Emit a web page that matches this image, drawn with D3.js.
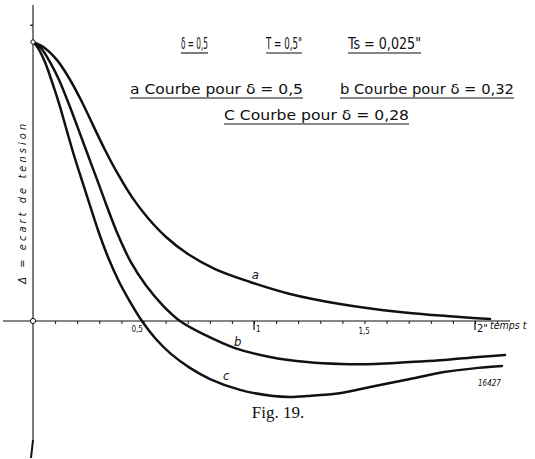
<!DOCTYPE html>
<html><head><meta charset="utf-8">
<script src="https://cdn.jsdelivr.net/npm/d3@7"></script>
<style>
html,body{margin:0;padding:0;background:#fff;}
svg{display:block;}
text{fill:#111;}
</style></head>
<body>
<svg id="chart" width="535" height="459"></svg>
<script>
// ---- data (t in seconds, Δ relative deviation) ----
const tA = [0,0.054,0.109,0.163,0.217,0.271,0.326,0.384,0.448,0.52,0.602,0.701,0.824,0.982,1.163,1.389,1.66,1.932,2.068];
const dA = [1,0.978,0.935,0.871,0.792,0.703,0.613,0.527,0.444,0.369,0.301,0.24,0.186,0.14,0.097,0.061,0.032,0.014,0.007];

const tB = [0,0.036,0.077,0.118,0.16,0.203,0.245,0.287,0.332,0.385,0.443,0.51,0.586,0.665,0.778,0.914,1.072,1.24,1.394,1.548,1.706,1.86,2.014,2.136];
const dB = [1,0.978,0.928,0.864,0.782,0.692,0.602,0.513,0.416,0.308,0.211,0.129,0.057,0,-0.05,-0.097,-0.129,-0.147,-0.154,-0.154,-0.147,-0.14,-0.129,-0.122];

const tC = [0,0.023,0.054,0.086,0.12,0.152,0.185,0.221,0.257,0.297,0.341,0.39,0.44,0.493,0.552,0.624,0.71,0.801,0.937,1.086,1.163,1.24,1.394,1.548,1.706,1.86,2.014,2.122];
const dC = [1,0.978,0.928,0.857,0.774,0.685,0.595,0.505,0.416,0.319,0.226,0.14,0.068,0,-0.061,-0.118,-0.168,-0.208,-0.247,-0.269,-0.272,-0.269,-0.258,-0.233,-0.208,-0.183,-0.168,-0.161];

const seriesNames = ["a","b","c"];
const minorTicks = [0.1,0.2,0.3,0.4,0.5,0.6,0.7,0.8,0.9,1.0,1.1,1.2,1.3,1.4,1.5,1.6,1.7,1.8,1.9,2.0,2.1];
const majorTicks = [1, 2];
const tickLabels = [{v:0.5,t:"0,5"},{v:1,t:"1"},{v:1.5,t:"1,5"},{v:2,t:"2\""}];
const titleLine1 = ["δ = 0,5","T = 0,5\"","Ts = 0,025\""];
const titleLine2 = ["a  Courbe  pour  δ = 0,5","b  Courbe  pour  δ = 0,32"];
const titleLine3 = ["C  Courbe  pour  δ = 0,28"];

// ---- drawing ----
const svg = d3.select("#chart");
const x = d3.scaleLinear().domain([0,2]).range([33,475]);
const y = d3.scaleLinear().domain([0,1]).range([321,42]);

const handFont = "'DejaVu Sans Condensed','DejaVu Sans','Liberation Sans',sans-serif";

// axes
svg.append("line").attr("x1",3).attr("x2",510).attr("y1",y(0)).attr("y2",y(0))
  .attr("stroke","#111").attr("stroke-width",1.1);
svg.append("line").attr("x1",x(0)).attr("x2",x(0)).attr("y1",5).attr("y2",440)
  .attr("stroke","#111").attr("stroke-width",1.1);
svg.append("line").attr("x1",x(0)).attr("x2",x(0)-2).attr("y1",440).attr("y2",458)
  .attr("stroke","#111").attr("stroke-width",2);
svg.append("line").attr("x1",x(0)-3).attr("x2",x(0)).attr("y1",y(1.06)).attr("y2",y(1.06))
  .attr("stroke","#111").attr("stroke-width",1.2);

const xAxis = d3.axisBottom(x).tickValues(minorTicks).tickSize(3).tickFormat("");
const gx = svg.append("g").attr("transform",`translate(0,${y(0)})`).call(xAxis);
gx.select(".domain").remove();
gx.selectAll(".tick line").attr("stroke","#111").attr("stroke-width",1);

const gMaj = svg.append("g");
gMaj.selectAll("line").data(majorTicks).join("line")
  .attr("x1",d=>x(d)).attr("x2",d=>x(d)).attr("y1",y(0)).attr("y2",y(0)+9)
  .attr("stroke","#111").attr("stroke-width",1.2);

svg.append("g").selectAll("text").data(tickLabels).join("text")
  .attr("x",d=>x(d.v)+(d.v===1||d.v===2?2:(d.v===0.5?-12:-6)))
  .attr("y",d=>y(0)+(d.v===1.5?13:11))
  .attr("font-family",handFont).attr("font-size",d=>d.v===2?11:8)
  .text(d=>d.t);

svg.append("text").attr("x",490).attr("y",y(0)+8)
  .attr("font-family",handFont).attr("font-style","italic").attr("font-size",10.5)
  .text("temps t");

// y label
svg.append("text")
  .attr("transform",`translate(26,${y(0.42)}) rotate(-90)`)
  .attr("text-anchor","middle")
  .attr("font-family",handFont).attr("font-style","italic").attr("font-size",11)
  .attr("textLength",160).attr("lengthAdjust","spacing")
  .text("Δ = ecart de tension");

// curves
const line = d3.line().x(d=>x(d[0])).y(d=>y(d[1])).curve(d3.curveCatmullRom.alpha(0.5));
const curves = [d3.zip(tA,dA), d3.zip(tB,dB), d3.zip(tC,dC)];
svg.append("g").selectAll("path").data(curves).join("path")
  .attr("d",line).attr("fill","none").attr("stroke","#111")
  .attr("stroke-width",2.5).attr("stroke-linecap","round");

// circles at start & origin
svg.append("circle").attr("cx",x(0)).attr("cy",y(1)).attr("r",2.2)
  .attr("fill","#fff").attr("stroke","#111").attr("stroke-width",1);
svg.append("circle").attr("cx",x(0)).attr("cy",y(0)).attr("r",2.6)
  .attr("fill","#fff").attr("stroke","#111").attr("stroke-width",1);

// curve labels
const curveLabelPos = [[0.99,0.15],[0.91,-0.09],[0.86,-0.21]];
svg.append("g").selectAll("text").data(seriesNames).join("text")
  .attr("x",(d,i)=>x(curveLabelPos[i][0])).attr("y",(d,i)=>y(curveLabelPos[i][1]))
  .attr("font-family",handFont).attr("font-style","italic").attr("font-size",13)
  .text(d=>d);

// title block
function titleRow(items, xs, widths, baseY, fs){
  items.forEach((t,i)=>{
    svg.append("text").attr("x",xs[i]).attr("y",baseY)
      .attr("font-family",handFont).attr("font-size",fs)
      .attr("textLength",widths[i]).attr("lengthAdjust","spacingAndGlyphs")
      .text(t);
    svg.append("line").attr("x1",xs[i]).attr("x2",xs[i]+widths[i])
      .attr("y1",baseY+4).attr("y2",baseY+4).attr("stroke","#111").attr("stroke-width",1.1);
  });
}
titleRow(titleLine1,[181,266,348],[27,36,73],49,16);
titleRow(titleLine2,[130,340],[173,174],94,14);
titleRow(titleLine3,[224],[185],120,14);

svg.append("text").attr("x",478).attr("y",386)
  .attr("font-family",handFont).attr("font-style","italic").attr("font-size",8)
  .text("16427");

svg.append("text").attr("x",278).attr("y",418).attr("text-anchor","middle")
  .attr("font-family","'Liberation Serif','DejaVu Serif',serif").attr("font-size",17)
  .text("Fig.  19.");
</script>
</body></html>
